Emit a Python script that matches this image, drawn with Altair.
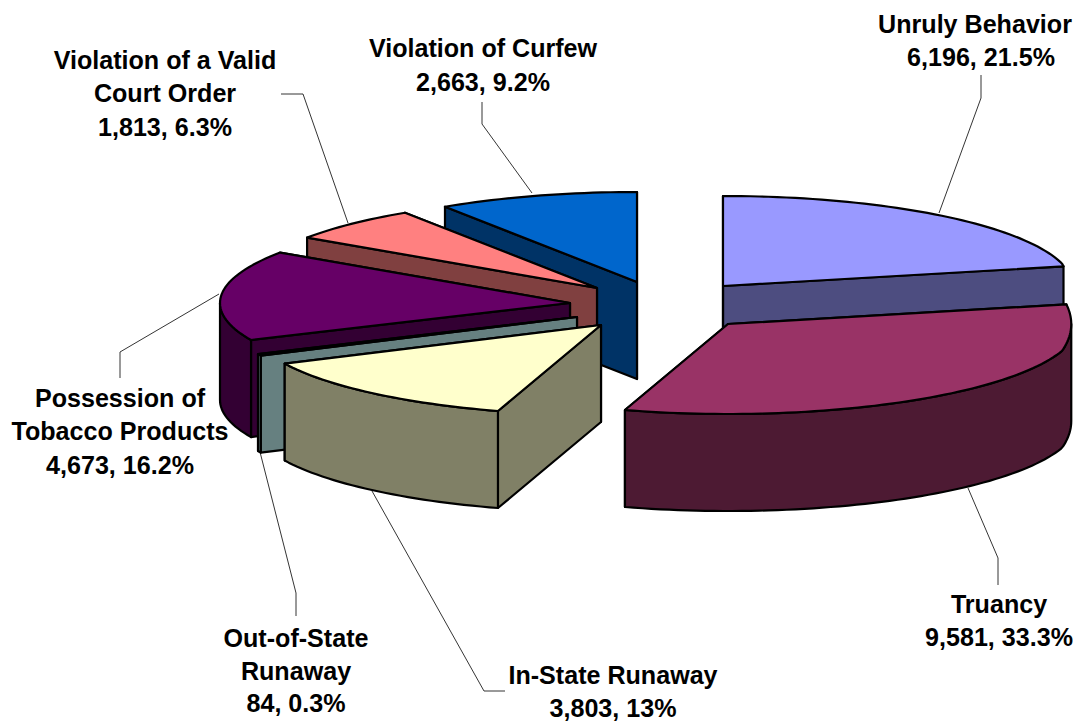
import math
import altair as alt
import pandas as pd

categories = ["Unruly Behavior", "Truancy", "In-State Runaway", "Out-of-State Runaway",
              "Possession of Tobacco Products", "Violation of a Valid Court Order", "Violation of Curfew"]
values = [6196, 9581, 3803, 84, 4673, 1813, 2663]
top_colors = ["#9999FF", "#993366", "#FFFFCC", "#CCFFFF", "#660066", "#FF8080", "#0066CC"]
side_colors = ["#4D4D80", "#4D1A33", "#808066", "#668080", "#330033", "#804040", "#003366"]
apex_x = [723, 728, 601, 577, 570, 597, 637]
apex_y = [286, 324, 325, 317, 303, 288, 282]
RX, RY, DEPTH = 350, 90, 97
paint_order = [0, 6, 5, 4, 3, 2, 1]

label_lines = [
    ("Unruly Behavior", 975, 25), ("6,196, 21.5%", 981, 58),
    ("Violation of Curfew", 483, 49), ("2,663, 9.2%", 483, 83),
    ("Violation of a Valid", 165, 61), ("Court Order", 165, 94), ("1,813, 6.3%", 165, 128),
    ("Possession of", 120, 399), ("Tobacco Products", 120, 432), ("4,673, 16.2%", 120, 466),
    ("Out-of-State", 296, 639), ("Runaway", 296, 672), ("84, 0.3%", 296, 704),
    ("In-State Runaway", 613, 676), ("3,803, 13%", 613, 709),
    ("Truancy", 999, 605), ("9,581, 33.3%", 999, 638),
]
leaders = [
    [(981, 75), (981, 98), (939, 213)],
    [(482, 102), (482, 124), (532, 193)],
    [(281, 94), (303, 94), (348, 223)],
    [(120, 378), (120, 352), (219, 294)],
    [(296, 616), (296, 593), (260, 452)],
    [(505, 691), (484, 691), (372, 491)],
    [(998, 585), (998, 558), (968, 488)],
]

X = alt.X("x:Q", scale=alt.Scale(domain=[8, 1062, 1081], range=[0, 1054, 1065]), axis=None)
Y = alt.Y("y:Q", scale=alt.Scale(domain=[8, 722], range=[0, 714]), axis=None)


def rim(cx, cy, t):
    r = math.radians(t)
    return cx + RX * math.sin(r), cy - RY * math.cos(r)


def arc(cx, cy, a, b):
    n = max(2, int(abs(b - a) / 1.5) + 2)
    return [rim(cx, cy, a + (b - a) * i / (n - 1)) for i in range(n)]


def face(points, fill, width=2.2):
    df = pd.DataFrame(points, columns=["x", "y"])
    df["i"] = range(len(df))
    return alt.Chart(df).mark_line(
        fill=fill, stroke="black", strokeWidth=width, interpolate="linear-closed", strokeJoin="round"
    ).encode(x=X, y=Y, order="i:Q")


total = sum(values)
bounds = [0.0]
for v in values:
    bounds.append(bounds[-1] + 360.0 * v / total)

layers = []
for pts in leaders:
    df = pd.DataFrame(pts, columns=["x", "y"])
    df["i"] = range(len(df))
    layers.append(alt.Chart(df).mark_line(stroke="black", strokeWidth=0.8).encode(x=X, y=Y, order="i:Q"))

for k in paint_order:
    a, b = bounds[k], bounds[k + 1]
    cx, cy = apex_x[k], apex_y[k]
    side = side_colors[k]
    for t in (b, a):
        p = rim(cx, cy, t)
        layers.append(face([(cx, cy), p, (p[0], p[1] + DEPTH), (cx, cy + DEPTH)], side))
    lo, hi = max(a, 90), min(b, 270)
    if hi > lo:
        upper = arc(cx, cy, lo, hi)
        lower = [(x, y + DEPTH) for x, y in reversed(upper)]
        layers.append(face(upper + lower, side))
    layers.append(face([(cx, cy)] + arc(cx, cy, a, b), top_colors[k]))

text_df = pd.DataFrame(label_lines, columns=["text", "x", "y"])
layers.append(alt.Chart(text_df).mark_text(
    font="Liberation Sans", fontWeight="bold", fontSize=25.1, color="black", align="center", baseline="middle"
).encode(x=X, y=Y, text="text:N"))

chart = alt.layer(*layers).properties(
    width=1065, height=714, padding=0, background="white", autosize=alt.AutoSizeParams(type="none")
).configure_view(stroke=None)

chart.save("out.html", embed_options={"renderer": "svg", "actions": False})
